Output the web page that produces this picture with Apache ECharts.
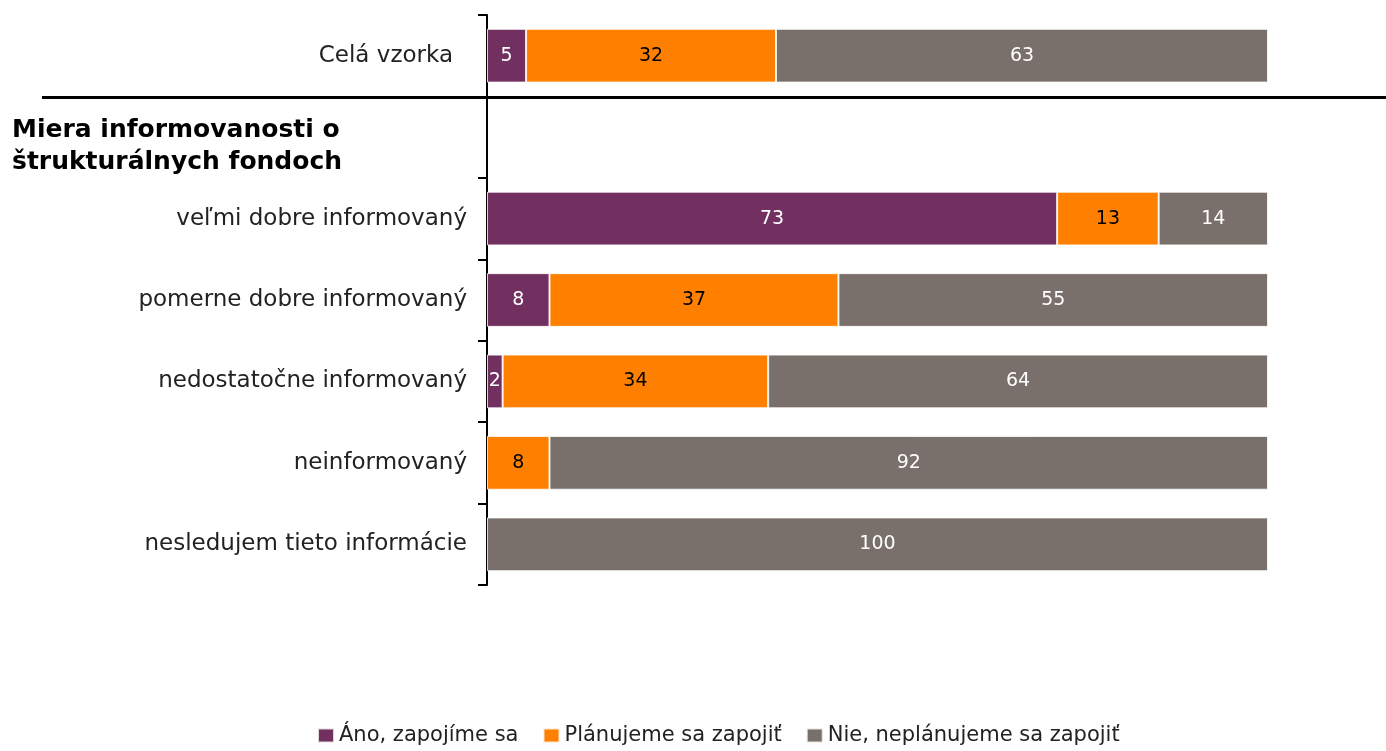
<!DOCTYPE html>
<html>
<head>
<meta charset="utf-8">
<script src="https://cdn.jsdelivr.net/npm/echarts@6/dist/echarts.min.js"></script>
<style>
  html, body { margin: 0; padding: 0; background: #fff; }
  #chart { width: 1386px; height: 751px; }
</style>
</head>
<body>
<div id="chart"></div>
<script>
// Rows from top to bottom; the empty one holds the section heading
var categories = [
  'Celá vzorka',
  '',
  'veľmi dobre informovaný',
  'pomerne dobre informovaný',
  'nedostatočne informovaný',
  'neinformovaný',
  'nesledujem tieto informácie'
];
var seriesNames = ['Áno, zapojíme sa', 'Plánujeme sa zapojiť', 'Nie, neplánujeme sa zapojiť'];
var yesValues  = [5, null, 73, 8, 2, null, null];
var planValues = [32, null, 13, 37, 34, 8, null];
var noValues   = [63, null, 14, 55, 64, 92, 100];
var sectionTitle = 'Miera informovanosti o\nštrukturálnych fondoch';

var colors = ['#71305F', '#FF8000', '#7A706B'];
var labelColors = ['#ffffff', '#000000', '#ffffff'];
var FONT = 'DejaVu Sans';

function makeSeries(name, data, i) {
  return {
    name: name,
    type: 'bar',
    stack: 'total',
    data: data,
    barCategoryGap: '34%',
    itemStyle: { color: colors[i], borderColor: 'rgba(255,255,255,0.8)', borderWidth: 1 },
    label: {
      show: true,
      position: 'inside',
      color: labelColors[i],
      fontFamily: FONT,
      fontSize: 19,
      formatter: function (p) { return p.value == null ? '' : p.value; }
    },
    emphasis: { disabled: true }
  };
}

var chart = echarts.init(document.getElementById('chart'));
chart.setOption({
  animation: false,
  color: colors,
  grid: { left: 487, right: 118, top: 15, bottom: 166 },
  xAxis: { type: 'value', min: 0, max: 100, show: false },
  yAxis: {
    type: 'category',
    inverse: true,
    data: categories,
    axisLine: { show: true, lineStyle: { color: '#000', width: 2 } },
    axisTick: { show: true, length: 9, lineStyle: { color: '#000', width: 2 } },
    axisLabel: {
      color: '#222', fontFamily: FONT, fontSize: 23, margin: 20,
      // the overall row label sits slightly further from the axis
      formatter: function (v, idx) { return idx === 0 ? '{a|' + v + '}' : v; },
      rich: { a: { fontFamily: FONT, fontSize: 23, color: '#222', padding: [0, 14, 0, 0] } }
    },
    splitLine: { show: false }
  },
  legend: {
    bottom: 0,
    left: 312,
    itemWidth: 16,
    itemHeight: 14,
    itemGap: 24,
    icon: 'rect',
    textStyle: { fontFamily: FONT, fontSize: 21, color: '#222' },
    data: seriesNames
  },
  series: [
    makeSeries(seriesNames[0], yesValues, 0),
    makeSeries(seriesNames[1], planValues, 1),
    makeSeries(seriesNames[2], noValues, 2)
  ],
  graphic: [
    {
      type: 'line',
      shape: { x1: 42, y1: 97.5, x2: 1386, y2: 97.5 },
      style: { stroke: '#000', lineWidth: 3 }
    },
    {
      type: 'text',
      left: 12,
      top: 114,
      style: {
        text: sectionTitle,
        fontFamily: FONT,
        fontWeight: 'bold',
        fontSize: 25,
        lineHeight: 32,
        fill: '#000'
      }
    }
  ]
});
</script>
</body>
</html>
